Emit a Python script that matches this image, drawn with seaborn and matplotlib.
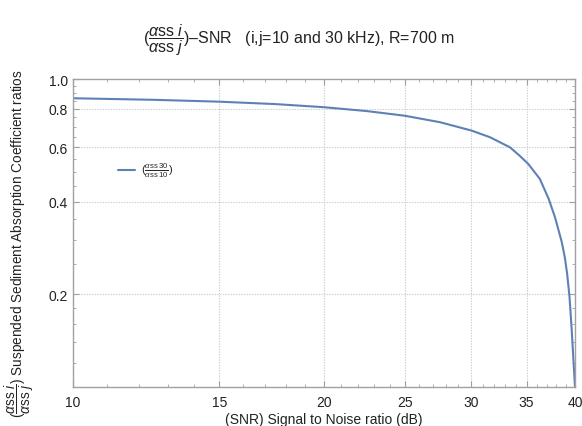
import matplotlib
matplotlib.use("Agg")
import matplotlib.pyplot as plt
import matplotlib.ticker as mticker
import seaborn as sns
import pandas as pd

# Data (SNR in dB vs ratio)
snr = [10, 12.5, 15, 17.5, 20, 22.5, 25, 27.56, 30.07, 31.64, 33.43, 34.3, 35.16,
       36.3, 37.2, 37.85, 38.56, 38.9, 39.15, 39.4, 39.64, 39.81, 40]
ratio = [0.866, 0.856, 0.844, 0.829, 0.81, 0.787, 0.76, 0.724, 0.68, 0.647, 0.60,
         0.565, 0.53, 0.474, 0.408, 0.356, 0.296, 0.263, 0.232, 0.196, 0.153, 0.125, 0.1]
x_ticks = [10, 15, 20, 25, 30, 35, 40]
y_ticks = [0.2, 0.4, 0.6, 0.8, 1.0]
y_tick_labels = ["0.2", "0.4", "0.6", "0.8", "1.0"]

sns.set_style("ticks")
plt.rcParams['font.family'] = ['Liberation Sans', 'DejaVu Sans']
plt.rcParams['mathtext.fontset'] = 'custom'
plt.rcParams['mathtext.rm'] = 'Liberation Sans'
plt.rcParams['mathtext.it'] = 'Liberation Sans:italic'

df = pd.DataFrame({"SNR": snr, "ratio": ratio})

fig = plt.figure(figsize=(5.82, 4.27), dpi=100)
ax = fig.add_axes([72.5 / 582, 1 - 388 / 427, (575 - 72.5) / 582, (388 - 80) / 427])

sns.lineplot(data=df, x="SNR", y="ratio", ax=ax, color="#5e81b5", linewidth=1.5,
             label=r"$(\frac{\alpha\mathrm{ss\,30}}{\alpha\mathrm{ss\,10}})$")

ax.set_xscale("log")
ax.set_yscale("log")
ax.set_xlim(10, 40)
ax.set_ylim(0.1, 1.0)

ax.xaxis.set_major_locator(mticker.FixedLocator(x_ticks))
ax.xaxis.set_major_formatter(mticker.FixedFormatter([str(t) for t in x_ticks]))
ax.xaxis.set_minor_locator(mticker.FixedLocator([v for v in range(11, 40) if v not in x_ticks]))
ax.xaxis.set_minor_formatter(mticker.NullFormatter())

ax.yaxis.set_major_locator(mticker.FixedLocator(y_ticks))
ax.yaxis.set_major_formatter(mticker.FixedFormatter(y_tick_labels))
minor_y = [0.12, 0.14, 0.16, 0.18, 0.25, 0.3, 0.35, 0.45, 0.5, 0.55, 0.65, 0.7, 0.75, 0.85, 0.9, 0.95]
ax.yaxis.set_minor_locator(mticker.FixedLocator(minor_y))
ax.yaxis.set_minor_formatter(mticker.NullFormatter())

for s in ax.spines.values():
    s.set_color("#a0a0a0")
    s.set_linewidth(1.0)
    s.set_visible(True)

ax.tick_params(which="both", direction="in", top=True, right=True, colors="#a0a0a0",
               labelcolor="#222222", labelsize=10)
ax.tick_params(which="major", length=4)
ax.tick_params(which="minor", length=2)
ax.tick_params(axis="x", pad=6)

for gx in [15, 20, 25, 30, 35]:
    ax.axvline(gx, color="#cccccc", linestyle=(0, (1.2, 1.2)), linewidth=0.8, zorder=0)
for gy in [0.2, 0.4, 0.6, 0.8]:
    ax.axhline(gy, color="#cccccc", linestyle=(0, (1.2, 1.2)), linewidth=0.8, zorder=0)

ax.set_xlabel("(SNR) Signal to Noise ratio (dB)", fontsize=10, color="#222222", labelpad=2)
ax.set_ylabel(r"$(\dfrac{\alpha\mathrm{ss}\ i}{\alpha\mathrm{ss}\ j})$ Suspended Sediment Absorption Coefficient ratios",
              fontsize=9.8, color="#222222")
ax.yaxis.set_label_coords(-0.072, 0.47)

leg = ax.legend(loc="center left", bbox_to_anchor=(0.07, 0.705), frameon=False,
                fontsize=8, handlelength=1.6, handletextpad=0.5)

fig.text(0.513, 0.906, r"$(\dfrac{\alpha\mathrm{ss}\ i}{\alpha\mathrm{ss}\ j})$–SNR   (i,j=10 and 30 kHz), R=700 m",
         ha="center", va="center", fontsize=11.5, color="#222222")

fig.savefig("out.png", dpi=100)
